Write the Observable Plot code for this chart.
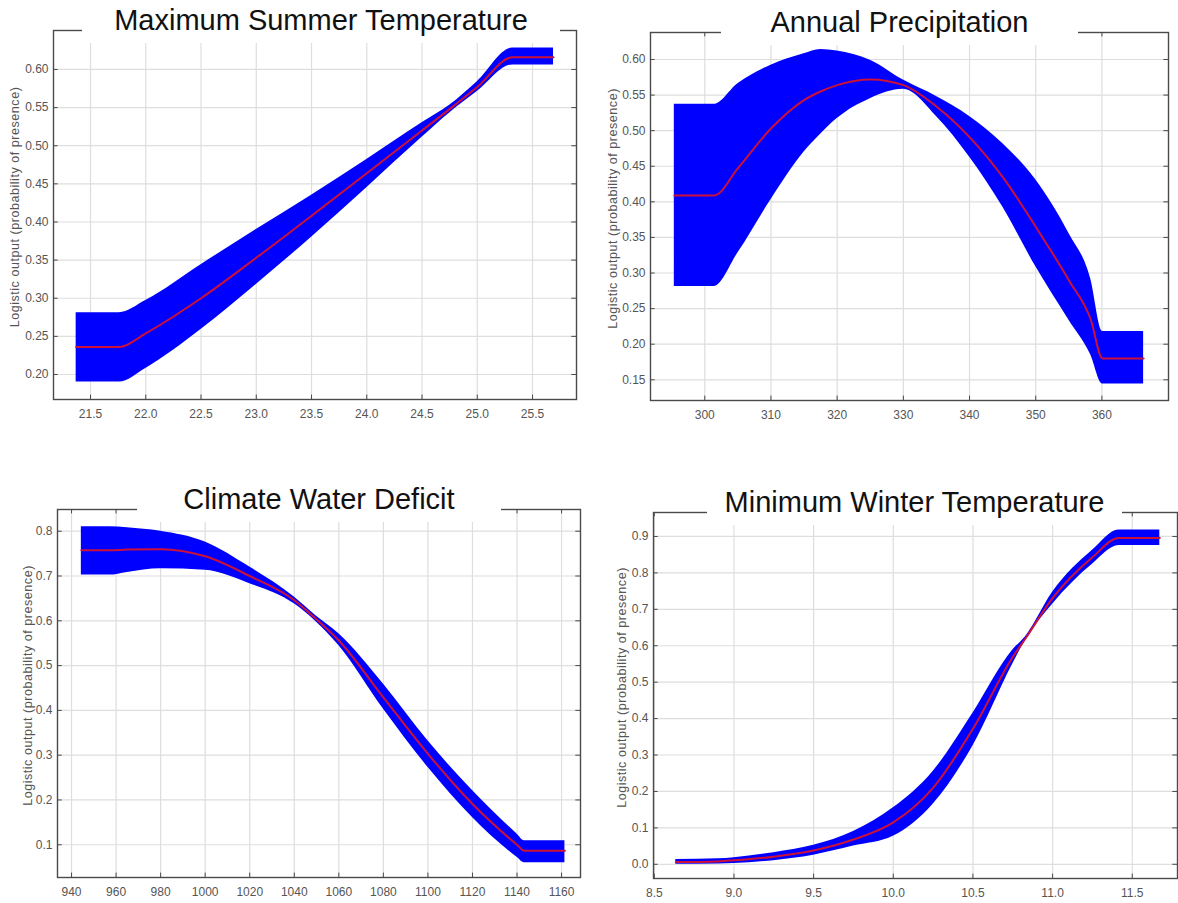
<!DOCTYPE html>
<html>
<head>
<meta charset="utf-8">
<script src="https://cdn.jsdelivr.net/npm/d3@7"></script>
<script src="https://cdn.jsdelivr.net/npm/@observablehq/plot@0.6"></script>
<style>
  body { margin: 0; background: #fff; }
  #page { position: relative; width: 1178px; height: 903px; overflow: hidden; background: #fff;
          font-family: "Liberation Sans", Arial, sans-serif; }
  .panel { position: absolute; }
  .title { position: absolute; background: #fff; text-align: center; font-size: 29px; line-height: 29px;
           color: #111; white-space: nowrap; box-sizing: border-box; }
</style>
</head>
<body>
<div id="page"></div>
<script>
// Response curves: mean logistic output (red) with its spread (blue band)

const yLabel = "Logistic output (probability of presence)";

// Maximum Summer Temperature
const tmaxX    = [21.37, 21.76, 22.0, 22.5, 23.0, 23.5, 24.0, 24.5, 24.75, 25.0, 25.32, 25.69];
const tmaxLow  = [0.190, 0.190, 0.208, 0.259, 0.318, 0.380, 0.445, 0.511, 0.543, 0.571, 0.606, 0.606];
const tmaxMean = [0.236, 0.236, 0.254, 0.300, 0.353, 0.408, 0.464, 0.520, 0.548, 0.577, 0.616, 0.616];
const tmaxHigh = [0.281, 0.281, 0.297, 0.344, 0.390, 0.435, 0.482, 0.530, 0.553, 0.584, 0.628, 0.628];
const tmaxXTicks = [21.5, 22.0, 22.5, 23.0, 23.5, 24.0, 24.5, 25.0, 25.5];
const tmaxYTicks = [0.20, 0.25, 0.30, 0.35, 0.40, 0.45, 0.50, 0.55, 0.60];

// Annual Precipitation
const pptX    = [295.4, 301.4, 305, 310, 315, 317.5, 320, 325, 330, 335, 340, 345, 350, 355, 358.3, 360.1, 366.3];
const pptLow  = [0.281, 0.281, 0.328, 0.403, 0.470, 0.495, 0.517, 0.545, 0.558, 0.520, 0.463, 0.393, 0.309, 0.234, 0.185, 0.144, 0.144];
const pptMean = [0.409, 0.409, 0.447, 0.503, 0.543, 0.555, 0.564, 0.572, 0.564, 0.534, 0.491, 0.435, 0.365, 0.290, 0.235, 0.180, 0.180];
const pptHigh = [0.537, 0.537, 0.566, 0.592, 0.608, 0.614, 0.612, 0.599, 0.571, 0.548, 0.520, 0.482, 0.431, 0.356, 0.292, 0.218, 0.218];
const pptXTicks = [300, 310, 320, 330, 340, 350, 360];
const pptYTicks = [0.15, 0.20, 0.25, 0.30, 0.35, 0.40, 0.45, 0.50, 0.55, 0.60];

// Climate Water Deficit
const cwdX    = [944.4, 957, 965, 980, 1000, 1020, 1040, 1050, 1060, 1080, 1100, 1120, 1140, 1143.3, 1161.5];
const cwdLow  = [0.702, 0.702, 0.708, 0.716, 0.713, 0.683, 0.638, 0.597, 0.545, 0.403, 0.273, 0.161, 0.072, 0.060, 0.060];
const cwdMean = [0.7575, 0.7575, 0.759, 0.760, 0.744, 0.700, 0.646, 0.603, 0.556, 0.429, 0.303, 0.191, 0.100, 0.0865, 0.0865];
const cwdHigh = [0.810, 0.810, 0.808, 0.800, 0.776, 0.720, 0.653, 0.610, 0.571, 0.459, 0.332, 0.221, 0.124, 0.109, 0.109];
const cwdXTicks = [940, 960, 980, 1000, 1020, 1040, 1060, 1080, 1100, 1120, 1140, 1160];
const cwdYTicks = [0.1, 0.2, 0.3, 0.4, 0.5, 0.6, 0.7, 0.8];

// Minimum Winter Temperature
const tminX    = [8.635, 8.9, 9.0, 9.25, 9.5, 9.75, 10.0, 10.25, 10.5, 10.75, 10.83, 11.0, 11.25, 11.417, 11.673];
const tminLow  = [0.000, 0.001, 0.002, 0.010, 0.025, 0.050, 0.077, 0.165, 0.325, 0.550, 0.615, 0.714, 0.824, 0.875, 0.875];
const tminMean = [0.006, 0.008, 0.011, 0.021, 0.038, 0.068, 0.115, 0.210, 0.372, 0.569, 0.620, 0.731, 0.843, 0.896, 0.896];
const tminHigh = [0.013, 0.015, 0.018, 0.032, 0.052, 0.090, 0.155, 0.255, 0.415, 0.588, 0.625, 0.747, 0.862, 0.918, 0.918];
const tminXTicks = [8.5, 9.0, 9.5, 10.0, 10.5, 11.0, 11.5];
const tminYTicks = [0.0, 0.1, 0.2, 0.3, 0.4, 0.5, 0.6, 0.7, 0.8, 0.9];

const panels = [
  { title: "Maximum Summer Temperature", x: tmaxX, lo: tmaxLow, mid: tmaxMean, hi: tmaxHigh,
    xTicks: tmaxXTicks, yTicks: tmaxYTicks, xFmt: d3.format(".1f"), yFmt: d3.format(".2f"),
    xDomain: [21.165, 25.898], yDomain: [0.1672, 0.6511],
    left: 0, top: 0, width: 590, height: 430, m: [30, 14, 31, 53], labelX: 10, gap: [82, 560] },
  { title: "Annual Precipitation", x: pptX, lo: pptLow, mid: pptMean, hi: pptHigh,
    xTicks: pptXTicks, yTicks: pptYTicks, xFmt: d3.format("d"), yFmt: d3.format(".2f"),
    xDomain: [291.8, 370.06], yDomain: [0.1209, 0.6379],
    left: 590, top: 0, width: 588, height: 430, m: [32, 10, 30, 60], labelX: 18, gap: [721, 1078] },
  { title: "Climate Water Deficit", x: cwdX, lo: cwdLow, mid: cwdMean, hi: cwdHigh,
    xTicks: cwdXTicks, yTicks: cwdYTicks, xFmt: d3.format("d"), yFmt: d3.format(".1f"),
    xDomain: [933.7, 1168.5], yDomain: [0.0269, 0.8485],
    left: 0, top: 470, width: 590, height: 433, m: [39, 10, 26, 57], labelX: 23, gap: [137, 501] },
  { title: "Minimum Winter Temperature", x: tminX, lo: tminLow, mid: tminMean, hi: tminHigh,
    xTicks: tminXTicks, yTicks: tminYTicks, xFmt: d3.format(".1f"), yFmt: d3.format(".1f"),
    xDomain: [8.495, 11.784], yDomain: [-0.039, 0.9658],
    left: 590, top: 470, width: 588, height: 433, m: [42, 1, 25, 63], labelX: 27, gap: [707, 1122] }
];

const page = document.getElementById("page");
const frameColor = "#4a4a4a";
const gridColor = "#dedede";

for (const p of panels) {
  const rows = p.x.map((x, i) => ({x, lo: p.lo[i], mid: p.mid[i], hi: p.hi[i]}));
  const [mt, mr, mb, ml] = p.m;
  const [x0, x1] = p.xDomain;
  const [y0, y1] = p.yDomain;
  // inward tick length, as a share of each axis span
  const tx = (x1 - x0) * 0.009;
  const ty = (y1 - y0) * 0.012;

  const chart = Plot.plot({
    width: p.width,
    height: p.height,
    marginTop: mt, marginRight: mr, marginBottom: mb, marginLeft: ml,
    style: { fontFamily: "'Liberation Sans', Arial, sans-serif", fontSize: "12px", color: "#555", background: "#fff" },
    x: { domain: p.xDomain, ticks: p.xTicks, tickFormat: p.xFmt, tickSize: 0, tickPadding: 10, label: null },
    y: { domain: p.yDomain, ticks: p.yTicks, tickFormat: p.yFmt, tickSize: 0, tickPadding: 5, label: null },
    marks: [
      Plot.ruleX(p.xTicks, { x: d => d, stroke: gridColor, strokeWidth: 1.2 }),
      Plot.ruleY(p.yTicks, { y: d => d, stroke: gridColor, strokeWidth: 1.2 }),
      Plot.areaY(rows, { x: "x", y1: "lo", y2: "hi", fill: "#0000ff", curve: "monotone-x" }),
      Plot.line(rows, { x: "x", y: "mid", stroke: "#cc1038", strokeWidth: 2, curve: "monotone-x" }),
      // inward ticks on all four sides
      Plot.ruleX(p.xTicks, { x: d => d, y1: y0, y2: y0 + ty, stroke: frameColor }),
      Plot.ruleX(p.xTicks, { x: d => d, y1: y1, y2: y1 - ty, stroke: frameColor }),
      Plot.ruleY(p.yTicks, { y: d => d, x1: x0, x2: x0 + tx, stroke: frameColor }),
      Plot.ruleY(p.yTicks, { y: d => d, x1: x1, x2: x1 - tx, stroke: frameColor }),
      Plot.frame({ stroke: frameColor, strokeWidth: 1.4 }),
      Plot.text([yLabel], { frameAnchor: "left", rotate: -90, textAnchor: "middle", lineAnchor: "top",
                            dx: p.labelX - ml, dy: -8, fill: "#555", fontSize: 12.5 })
    ]
  });
  // the axis title is set a little wider than the default spacing
  chart.querySelectorAll('g[aria-label="text"] text').forEach(t => t.style.letterSpacing = "0.55px");

  const holder = document.createElement("div");
  holder.className = "panel";
  holder.style.left = p.left + "px";
  holder.style.top = p.top + "px";
  holder.appendChild(chart);
  page.appendChild(holder);

  // title sits in a white box that interrupts the top edge of the frame
  const frameTop = p.top + mt;
  const t = document.createElement("div");
  t.className = "title";
  t.textContent = p.title;
  t.style.left = p.gap[0] + "px";
  t.style.width = (p.gap[1] - p.gap[0]) + "px";
  t.style.top = (frameTop - 34) + "px";
  t.style.height = "47px";
  t.style.paddingTop = "9.5px";
  page.appendChild(t);
}
</script>
</body>
</html>
